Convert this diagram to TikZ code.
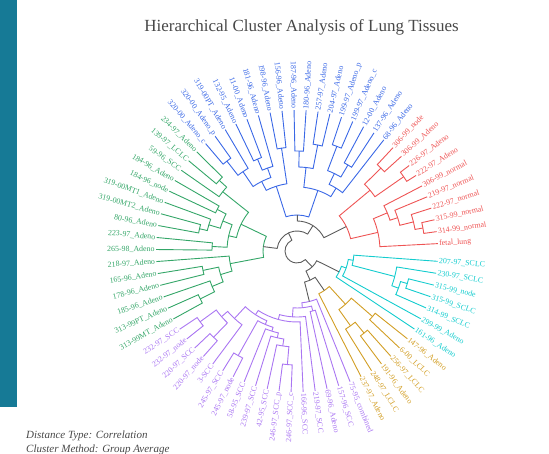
\documentclass[tikz,border=0pt]{standalone}
\usepackage{fontspec}
\setmainfont{Liberation Serif}

\definecolor{cred}{RGB}{238,84,84}
\definecolor{cblue}{RGB}{58,104,230}
\definecolor{cgreen}{RGB}{52,166,104}
\definecolor{cpurple}{RGB}{170,118,242}
\definecolor{corange}{RGB}{210,158,36}
\definecolor{ccyan}{RGB}{20,204,206}
\definecolor{cgray}{RGB}{92,92,92}
\definecolor{cteal}{RGB}{22,122,150}
\definecolor{ctext}{RGB}{72,72,72}

% join two branches at radius #4: name, child, child, radius, colour
\newcommand{\dmerge}[5]{%
  \pgfmathsetmacro\angA{\csname ang@#2\endcsname}%
  \pgfmathsetmacro\angB{\csname ang@#3\endcsname}%
  \pgfmathsetmacro\radA{\csname rad@#2\endcsname}%
  \pgfmathsetmacro\radB{\csname rad@#3\endcsname}%
  \pgfmathsetmacro\angM{(\angA+\angB)/2}%
  \draw[link, #5] (\angA:\radA pt) -- (\angA:#4pt)
    arc[start angle=\angA, end angle=\angB, radius=#4pt] -- (\angB:\radB pt);%
  \expandafter\xdef\csname ang@#1\endcsname{\angM}%
  \expandafter\xdef\csname rad@#1\endcsname{#4}%
  \coordinate (#1) at (\angM:#4pt);%
}

\begin{document}
\begin{tikzpicture}[x=1pt, y=1pt,
    lbl/.style={font=\fontsize{7.9}{8}\selectfont, inner sep=1.2pt},
    link/.style={line width=0.9pt},
    title/.style={font=\fontsize{17}{20}\selectfont, text=ctext},
    note/.style={font=\fontsize{11}{13}\selectfont\itshape, text=ctext, anchor=base west, inner sep=0pt},
  ]
  \useasboundingbox (-297,-203) rectangle (252,251);
  \fill[cteal] (-297,251) rectangle (-280,-156);

  \node[title] (title) at (4.5,224) {Hierarchical Cluster Analysis of Lung Tissues};
  \node[note] (dist) at (-271,-188) {Distance Type: Correlation};
  \node[note] (meth) at (-271,-202) {Cluster Method: Group Average};

  % leaves, counterclockwise from fetal_lung
  \foreach \txt/\clr [count=\i from 0] in {
      fetal\_lung/cred, 314-99\_normal/cred, 315-99\_normal/cred, 222-97\_normal/cred,
      219-97\_normal/cred, 306-99\_normal/cred, 222-97\_Adeno/cred, 226-97\_Adeno/cred,
      306-99\_Adeno/cred, 306-99\_node/cred,
      68-96\_Adeno/cblue, 137-96\_Adeno/cblue, 12-00\_Adeno/cblue, 199-97\_Adeno\_c/cblue,
      199-97\_Adeno\_p/cblue, 204-97\_Adeno/cblue, 257-97\_Adeno/cblue, 180-96\_Adeno/cblue,
      187-96\_Adeno/cblue, 156-96\_Adeno/cblue, 198-96\_Adeno/cblue, 181-96\_Adeno/cblue,
      11-00\_Adeno/cblue, 132-95\_Adeno/cblue, 319-00PT\_Adeno/cblue, 320-00\_Adeno\_p/cblue,
      320-00\_Adeno\_c/cblue,
      234-97\_Adeno/cgreen, 139-97\_LCLC/cgreen, 59-96\_SCC/cgreen, 184-96\_Adeno/cgreen,
      184-96\_node/cgreen, 319-00MT1\_Adeno/cgreen, 319-00MT2\_Adeno/cgreen, 80-96\_Adeno/cgreen,
      223-97\_Adeno/cgreen, 265-98\_Adeno/cgreen, 218-97\_Adeno/cgreen, 165-96\_Adeno/cgreen,
      178-96\_Adeno/cgreen, 185-96\_Adeno/cgreen, 313-99PT\_Adeno/cgreen, 313-99MT\_Adeno/cgreen,
      232-97\_SCC/cpurple, 232-97\_node/cpurple, 220-97\_SCC/cpurple, 220-97\_node/cpurple,
      3-SCC/cpurple, 245-97\_SCC/cpurple, 245-97\_node/cpurple, 58-95\_SCC/cpurple,
      239-97\_SCC/cpurple, 42-95\_SCC/cpurple, 246-97\_SCC\_p/cpurple, 246-97\_SCC\_c/cpurple,
      166-96\_SCC/cpurple, 219-97\_SCC/cpurple, 69-96\_Adeno/cpurple, 157-96\_SCC/cpurple,
      75-95\_combined/cpurple,
      237-97\_Adeno/corange, 248-97\_LCLC/corange, 191-96\_Adeno/corange, 256-97\_LCLC/corange,
      6-00\_LCLC/corange, 147-96\_Adeno/corange,
      161-96\_Adeno/ccyan, 299-99\_Adeno/ccyan, 314-99\_SCLC/ccyan, 315-99\_SCLC/ccyan,
      315-99\_node/ccyan, 230-97\_SCLC/ccyan, 207-97\_SCLC/ccyan} {
    \pgfmathsetmacro\a{3+4.9*\i}
    \pgfmathtruncatemacro\flip{and(\a>90,\a<270)}
    \expandafter\xdef\csname ang@l\i\endcsname{\a}
    \expandafter\xdef\csname rad@l\i\endcsname{141}
    \ifnum\flip=1
      \pgfmathsetmacro\rot{\a+180}
      \node[lbl, text=\clr, anchor=east, rotate=\rot] (l\i) at (\a:141pt) {\txt};
    \else
      \node[lbl, text=\clr, anchor=west, rotate=\a] (l\i) at (\a:141pt) {\txt};
    \fi
  }

  % red
  \dmerge{red1}{l1}{l2}{128}{cred}
  \dmerge{red2}{l3}{red1}{120}{cred}
  \dmerge{red3}{l4}{red2}{106}{cred}
  \dmerge{red4}{l5}{red3}{98}{cred}
  \dmerge{red5}{l0}{red4}{83}{cred}
  \dmerge{red6}{l6}{l7}{130}{cred}
  \dmerge{red7}{l8}{l9}{118}{cred}
  \dmerge{red8}{red6}{red7}{95}{cred}
  \dmerge{redroot}{red5}{red8}{55}{cred}

  % blue
  \dmerge{blu1}{l25}{l26}{114}{cblue}
  \dmerge{blu2}{l24}{blu1}{96}{cblue}
  \dmerge{blu3}{l22}{l23}{100}{cblue}
  \dmerge{blu4}{l21}{blu3}{88}{cblue}
  \dmerge{blu5}{blu4}{blu2}{78}{cblue}
  \dmerge{blu6}{l19}{l20}{104}{cblue}
  \dmerge{blu7}{blu6}{blu5}{68}{cblue}
  \dmerge{blu8}{l17}{l18}{100}{cblue}
  \dmerge{blu9}{l15}{l16}{108}{cblue}
  \dmerge{blu10}{blu9}{blu8}{84}{cblue}
  \dmerge{blu11}{l13}{l14}{112}{cblue}
  \dmerge{blu12}{l11}{l12}{100}{cblue}
  \dmerge{blu13}{blu12}{blu11}{86}{cblue}
  \dmerge{blu14}{l10}{blu13}{74}{cblue}
  \dmerge{blu15}{blu14}{blu10}{64}{cblue}
  \dmerge{bluroot}{blu15}{blu7}{36}{cblue}

  % green
  \dmerge{grn1}{l27}{l28}{105}{cgreen}
  \dmerge{grn2}{grn1}{l29}{95}{cgreen}
  \dmerge{grn3}{l30}{l31}{90}{cgreen}
  \dmerge{grn4}{l33}{l34}{100}{cgreen}
  \dmerge{grn5}{l32}{grn4}{92}{cgreen}
  \dmerge{grn6}{grn3}{grn5}{80}{cgreen}
  \dmerge{grn8}{l35}{l36}{85}{cgreen}
  \dmerge{grn7}{grn6}{grn8}{70}{cgreen}
  \dmerge{grn9}{grn2}{grn7}{62}{cgreen}
  \dmerge{grn10}{l38}{l39}{96}{cgreen}
  \dmerge{grn11}{l41}{l42}{108}{cgreen}
  \dmerge{grn12}{l40}{grn11}{92}{cgreen}
  \dmerge{grn13}{grn10}{grn12}{80}{cgreen}
  \dmerge{grn14}{l37}{grn13}{68}{cgreen}
  \dmerge{grnroot}{grn9}{grn14}{34}{cgreen}

  % purple
  \dmerge{pur1}{l43}{l44}{120}{cpurple}
  \dmerge{pur2}{l45}{l46}{120}{cpurple}
  \dmerge{pur3}{pur1}{pur2}{100}{cpurple}
  \dmerge{pur4}{pur3}{l47}{92}{cpurple}
  \dmerge{pur5}{l48}{l49}{120}{cpurple}
  \dmerge{pur6}{l53}{l54}{114}{cpurple}
  \dmerge{pur7}{l52}{pur6}{96}{cpurple}
  \dmerge{pur8}{l51}{pur7}{89}{cpurple}
  \dmerge{pur9}{l50}{pur8}{84}{cpurple}
  \dmerge{pur10}{pur5}{pur9}{80}{cpurple}
  \dmerge{pur11}{pur4}{pur10}{76}{cpurple}
  \dmerge{pur12}{pur11}{l55}{71}{cpurple}
  \dmerge{pur13}{pur12}{l56}{66}{cpurple}
  \dmerge{pur14}{l57}{l58}{62}{cpurple}
  \dmerge{pur15}{pur13}{pur14}{57}{cpurple}
  \dmerge{purroot}{pur15}{l59}{52}{cpurple}

  % orange
  \dmerge{org1}{l62}{l63}{106}{corange}
  \dmerge{org2}{l61}{org1}{92}{corange}
  \dmerge{org3}{l64}{l65}{100}{corange}
  \dmerge{org4}{org2}{org3}{72}{corange}
  \dmerge{orgroot}{l60}{org4}{48}{corange}

  % cyan
  \dmerge{cyn1}{l69}{l70}{115}{ccyan}
  \dmerge{cyn2}{l68}{cyn1}{108}{ccyan}
  \dmerge{cyn3}{cyn2}{l71}{101}{ccyan}
  \dmerge{cyn4}{cyn3}{l72}{57}{ccyan}
  \dmerge{cyn5}{l67}{cyn4}{52}{ccyan}
  \dmerge{cynroot}{l66}{cyn5}{47}{ccyan}

  % upper links
  \dmerge{br}{bluroot}{redroot}{30}{cgray}
  \dmerge{top}{grnroot}{br}{20}{cgray}
  \dmerge{po}{purroot}{orgroot}{32}{cgray}
  \dmerge{bot}{po}{cynroot}{22}{cgray}
  \dmerge{root}{top}{bot}{12}{cgray}
\end{tikzpicture}
\end{document}
